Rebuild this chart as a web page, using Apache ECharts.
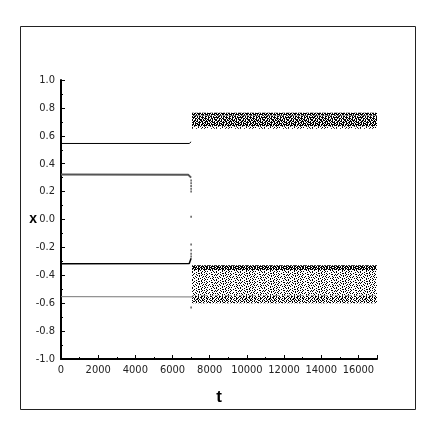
<!DOCTYPE html>
<html>
<head>
<meta charset="utf-8">
<script src="https://cdn.jsdelivr.net/npm/echarts@6/dist/echarts.min.js"></script>
<style>
  html, body { margin: 0; padding: 0; background: #fff; }
  #chart { width: 436px; height: 436px; }
</style>
</head>
<body>
<div id="chart"></div>
<script>
// periodic branches before the transition, [t, x]
var branchA = [[0, 0.545], [6900, 0.545], [6960, 0.549], [7000, 0.557]];
var branchB = [[0, 0.322], [6850, 0.320], [6950, 0.315], [7000, 0.300]];
var branchC = [[0, -0.318], [6900, -0.315], [6960, -0.305], [7000, -0.278]];
var branchD = [[0, -0.553], [7080, -0.555]];

// loose points around the jump
var jumpPoints = [
  [7000, 0.28], [7000, 0.26], [7000, 0.24], [7000, 0.22], [7000, 0.20],
  [7000, 0.02], [7000, -0.18], [7000, -0.22], [7000, -0.245], [7000, -0.265],
  [7000, -0.63]
];

// chaotic bands after the jump: [x low, x high] per strip
var bandT = [7050, 17000];
var upperStrips = [[0.745, 0.765], [0.685, 0.745], [0.668, 0.685], [0.650, 0.668]];
var lowerStrips = [[-0.362, -0.328], [-0.545, -0.362], [-0.600, -0.545]];

var tTicks = { min: 0, max: 17000, interval: 2000 };
var xTicks = { min: -1, max: 1, interval: 0.2 };

// hand drawn stipple tiles (style only)
var tiles = {
  dense: [
    "##.###.##.####.#..###.##",
    "#.##.####.#.##.####.#.##",
    "###.#.##.###.###.#.####.",
    ".####.#.##.##.##.###..##",
    "##.#.###.##.#.##.#.####.",
    "#.###.##.#.####.###.#.##",
    "####.#..###.#.##.####.#.",
    ".#.###.##.####.#.#.###.#"
  ],
  mixed: [
    "#.##.#..##.##.#.###.#..#",
    ".##.##.#.##..###.#.##.#.",
    "##.#..###.#.##.#..#.###.",
    ".#.###.#..##.#.###.#..##",
    "#.##.#.##.#..##.#.##.#..",
    "###..#.#.###.#..##.#.###",
    ".#.##.##..#.###.#..##.#.",
    "#..#.#.###.#.#.##.#.#.##"
  ],
  medium: [
    "#..##.#..##.#..#..##...#",
    ".#.#..#.##..#.#.#...#.#.",
    "#.#..##..#.#..##..#.##..",
    "..#.##.#..#.#..#.#..#..#",
    "#..#..#.#.##..#...##..#.",
    ".##.#.#..#..#.#.#...#.#.",
    "#...#..##..#...#.##..#..",
    ".#.#..#..#.##.#...#.#..#"
  ],
  light: [
    "#...#....#..#......#..#.",
    "..#...##.#....#..#......",
    ".#..#.....#.#..#...##..#",
    "#....#.#.#....#.......#.",
    "...#...#...#.#...#..#...",
    ".#..#.....#...#.#....#.#",
    "..#...#.#...#.....#.#...",
    "#.....#...#..#.#.....#.."
  ]
};

function makeTile(rows) {
  var c = document.createElement('canvas');
  c.width = rows[0].length;
  c.height = rows.length;
  var ctx = c.getContext('2d');
  ctx.fillStyle = '#fff';
  ctx.fillRect(0, 0, c.width, c.height);
  ctx.fillStyle = '#000';
  rows.forEach(function (r, y) {
    for (var x = 0; x < r.length; x++) {
      if (r[x] === '#') ctx.fillRect(x, y, 1, 1);
    }
  });
  return { image: c, repeat: 'repeat' };
}

var upperLook = ['dense', 'mixed', 'dense', 'light'];
var lowerLook = ['dense', 'light', 'medium'];

function stripAreas(strips, looks) {
  return strips.map(function (s, i) {
    return [
      { xAxis: bandT[0], yAxis: s[1], itemStyle: { color: makeTile(tiles[looks[i]]), opacity: 1 } },
      { xAxis: bandT[1], yAxis: s[0] }
    ];
  });
}

(function () {
  var myChart = echarts.init(document.getElementById('chart'), null, { renderer: 'canvas' });
  var font = "'DejaVu Sans Condensed', 'Liberation Sans Narrow', 'Liberation Sans', sans-serif";

  var option = {
    animation: false,
    backgroundColor: '#fff',
    grid: { left: 61, right: 59, top: 80, bottom: 77 },
    graphic: [{
      type: 'rect',
      shape: { x: 20.5, y: 26.5, width: 395, height: 383 },
      style: { fill: 'none', stroke: '#222', lineWidth: 1 },
      silent: true
    }],
    xAxis: {
      type: 'value',
      min: tTicks.min,
      max: tTicks.max,
      interval: tTicks.interval,
      name: 't',
      nameLocation: 'middle',
      nameGap: 30,
      nameMoveOverlap: false,
      nameTextStyle: { fontFamily: 'Liberation Sans', fontWeight: 'bold', fontSize: 17, color: '#000' },
      axisLine: { onZero: false, lineStyle: { color: '#000', width: 2 } },
      axisTick: { inside: true, length: 4, lineStyle: { color: '#000' } },
      minorTick: { show: true, splitNumber: 2, length: 2, lineStyle: { color: '#000' } },
      axisLabel: {
        showMaxLabel: false, margin: 6, fontFamily: font, fontSize: 11, color: '#222',
        formatter: function (v) { return String(v); }
      },
      splitLine: { show: false }
    },
    yAxis: {
      type: 'value',
      min: xTicks.min,
      max: xTicks.max,
      interval: xTicks.interval,
      name: 'x',
      nameLocation: 'middle',
      nameRotate: 0,
      nameGap: 24,
      nameMoveOverlap: false,
      nameTextStyle: { fontFamily: 'Liberation Sans', fontWeight: 'bold', fontSize: 14, color: '#000' },
      axisLine: { onZero: false, lineStyle: { color: '#000', width: 2 } },
      axisTick: { inside: true, length: 4, lineStyle: { color: '#000' } },
      minorTick: { show: true, splitNumber: 2, length: 2, lineStyle: { color: '#000' } },
      axisLabel: {
        margin: 6, fontFamily: font, fontSize: 11, color: '#222',
        formatter: function (v) { return v.toFixed(1); }
      },
      splitLine: { show: false }
    },
    series: [
      {
        type: 'line', data: branchA, showSymbol: false, silent: true,
        lineStyle: { color: '#000', width: 1 },
        markArea: { silent: true, data: stripAreas(upperStrips, upperLook) }
      },
      {
        type: 'line', data: branchB, showSymbol: false, silent: true,
        lineStyle: { color: '#555', width: 2 }
      },
      {
        type: 'line', data: branchC, showSymbol: false, silent: true,
        lineStyle: { color: '#000', width: 1.5 },
        markArea: { silent: true, data: stripAreas(lowerStrips, lowerLook) }
      },
      {
        type: 'line', data: branchD, showSymbol: false, silent: true,
        lineStyle: { color: '#777', width: 1 }
      },
      {
        type: 'scatter', data: jumpPoints, symbol: 'rect', symbolSize: [1.5, 2], silent: true,
        itemStyle: { color: '#333' }
      }
    ]
  };
  myChart.setOption(option);
})();
</script>
</body>
</html>
